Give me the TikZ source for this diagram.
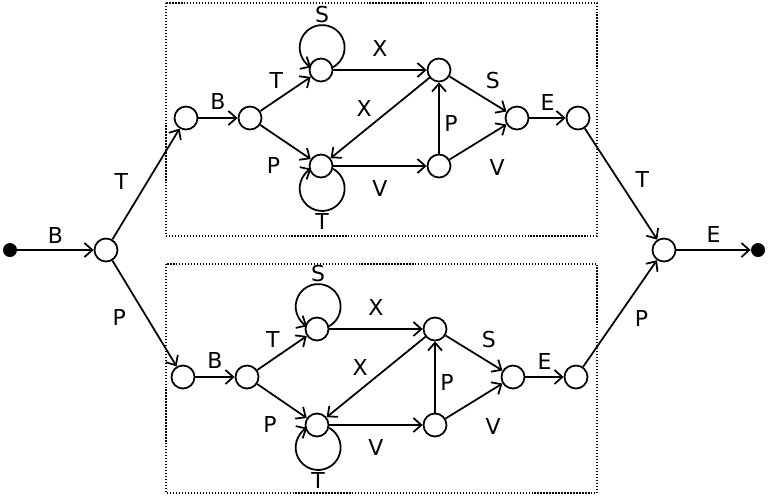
\documentclass[tikz,border=0pt]{standalone}
\usepackage{fontspec}
\setmainfont{DejaVu Sans}
\usetikzlibrary{positioning, arrows.meta}

\begin{document}
\begin{tikzpicture}[x=0.2mm, y=-0.2mm, >={Straight Barb[length=4.5pt,width=8pt]},
    state/.style={circle, draw, line width=1pt, minimum size=4.6mm, inner sep=0pt},
    dot/.style={circle, fill, minimum size=2.8mm, inner sep=0pt},
    lbl/.style={font=\fontsize{12.5}{15}\selectfont, inner sep=2pt},
    arr/.style={->, line width=1pt},
    frame/.style={densely dotted, line width=0.7pt}]

    \useasboundingbox (0,0) rectangle (769,495);

    % outer grammar
    \node[dot] (start) at (10,250) {};
    \node[state] (in) at (106,250) {};
    \node[state] (out) at (664,250) {};
    \node[dot] (stop) at (758,250) {};

    % upper copy
    \draw[frame] (166,3) rectangle (597,236);
    \node[state] (u1) at (186,118) {};
    \node[state] (u2) at (250,118) {};
    \node[state] (u3) at (321,70) {};
    \node[state] (u4) at (321,166) {};
    \node[state] (u5) at (439,70) {};
    \node[state] (u6) at (439,166) {};
    \node[state] (u7) at (517,118) {};
    \node[state] (u8) at (578,118) {};

    % lower copy
    \draw[frame] (166,264) rectangle (597,493);
    \node[state] (l1) at (183,377) {};
    \node[state] (l2) at (247,377) {};
    \node[state] (l3) at (317,329) {};
    \node[state] (l4) at (317,425) {};
    \node[state] (l5) at (435,329) {};
    \node[state] (l6) at (435,425) {};
    \node[state] (l7) at (513,377) {};
    \node[state] (l8) at (576,377) {};

    \draw[arr] (start) -- node[lbl, above=1pt] {B} (in);
    \draw[arr] (in) -- node[lbl, pos=.52, left=8.5pt] {T} (u1);
    \draw[arr] (in) -- node[lbl, pos=.54, left=9.5pt] {P} (l1);
    \draw[arr] (u8) -- node[lbl, pos=.46, right=7.5pt] {T} (out);
    \draw[arr] (l8) -- node[lbl, pos=.45, right=8pt] {P} (out);
    \draw[arr] (out) -- node[lbl, above=2pt] {E} (stop);

    \draw[arr] (u1) -- node[lbl, above=2.5pt] {B} (u2);
    \draw[arr] (u2) -- node[lbl, pos=.54, above left] {T} (u3);
    \draw[arr] (u2) -- node[lbl, pos=.62, below left=4pt and 4pt] {P} (u4);
    \draw[arr] (u3.13) arc[start angle=-61, end angle=241, radius=4.5mm] node[lbl, pos=.5, above=-1.5pt] {S};
    \draw[arr] (u4.-13) arc[start angle=61, end angle=-241, radius=4.5mm] node[lbl, pos=.5, below=-1pt] {T};
    \draw[arr] (u3) -- node[lbl, above=5pt] {X} (u5);
    \draw[arr] (u5) -- node[lbl, pos=.54, above left] {X} (u4);
    \draw[arr] (u4) -- node[lbl, below=5.5pt] {V} (u6);
    \draw[arr] (u6) -- node[lbl, pos=.43, right=.5pt] {P} (u5);
    \draw[arr] (u5) -- node[lbl, pos=.53, above right=1pt and 1pt] {S} (u7);
    \draw[arr] (u6) -- node[lbl, pos=.44, below right=6pt and 6pt] {V} (u7);
    \draw[arr] (u7) -- node[lbl, above=2pt] {E} (u8);

    \draw[arr] (l1) -- node[lbl, above=2.5pt] {B} (l2);
    \draw[arr] (l2) -- node[lbl, pos=.54, above left] {T} (l3);
    \draw[arr] (l2) -- node[lbl, pos=.62, below left=4pt and 4pt] {P} (l4);
    \draw[arr] (l3.13) arc[start angle=-61, end angle=241, radius=4.5mm] node[lbl, pos=.5, above=-1.5pt] {S};
    \draw[arr] (l4.-13) arc[start angle=61, end angle=-241, radius=4.5mm] node[lbl, pos=.5, below=-1pt] {T};
    \draw[arr] (l3) -- node[lbl, above=5pt] {X} (l5);
    \draw[arr] (l5) -- node[lbl, pos=.54, above left] {X} (l4);
    \draw[arr] (l4) -- node[lbl, below=5.5pt] {V} (l6);
    \draw[arr] (l6) -- node[lbl, pos=.43, right=.5pt] {P} (l5);
    \draw[arr] (l5) -- node[lbl, pos=.53, above right=1pt and 1pt] {S} (l7);
    \draw[arr] (l6) -- node[lbl, pos=.44, below right=6pt and 6pt] {V} (l7);
    \draw[arr] (l7) -- node[lbl, above=2pt] {E} (l8);

\end{tikzpicture}
\end{document}
